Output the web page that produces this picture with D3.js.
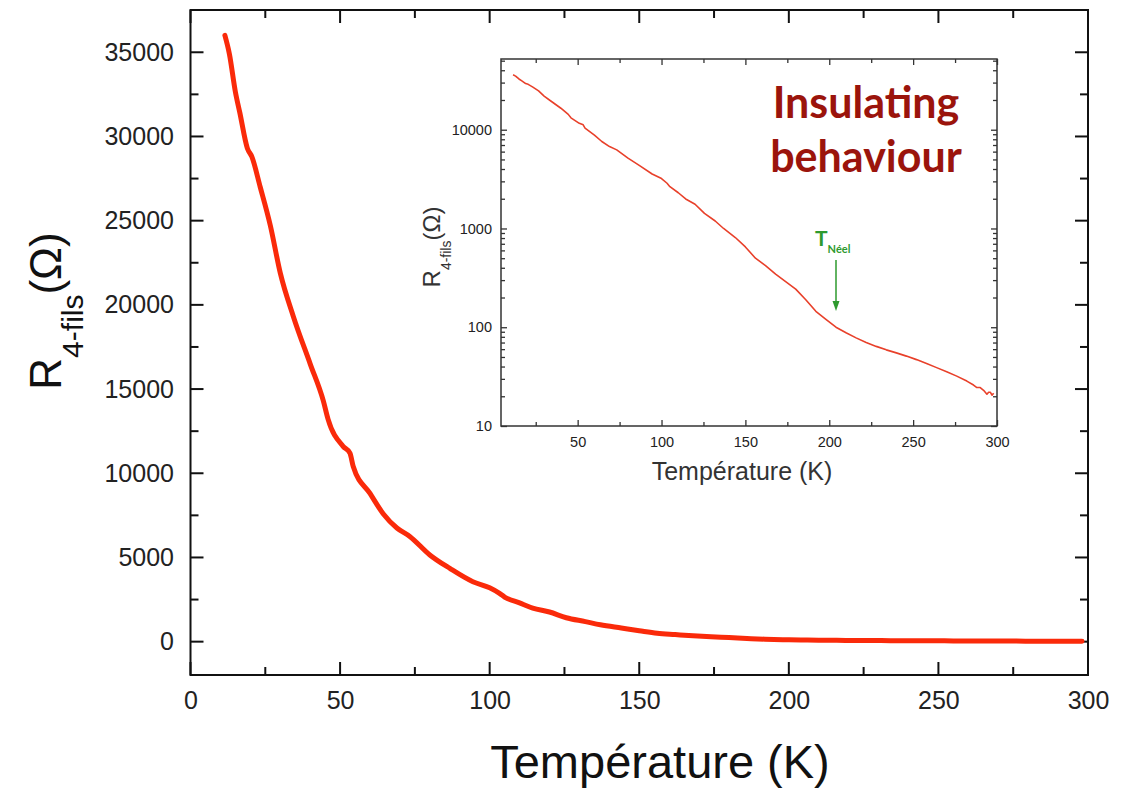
<!DOCTYPE html>
<html lang="fr">
<head>
<meta charset="utf-8">
<script src="https://cdnjs.cloudflare.com/ajax/libs/d3/7.8.5/d3.min.js"></script>
<style>
  body { margin: 0; background: #fff; }
  svg { font-family: "Liberation Sans", Arial, sans-serif; }
  .tick text { fill: #222; }
</style>
</head>
<body>
<script>
// Temperature (K) and 4-wire resistance (Ohm)
var temps = [11.5, 13, 15, 16.5, 19, 20.5, 23.3, 26.7, 30, 34.4, 40, 44.4, 46, 51, 53.3, 54.4,
  60, 64.4, 69, 73.3, 80, 86.7, 94.4, 100, 103.3, 105, 110, 114.4, 120, 125.6, 132, 137,
  144, 150, 156, 162, 168, 174, 180, 186, 192, 198, 204, 210, 216, 222, 228, 234, 240,
  246, 252, 258, 264, 270, 276, 282, 286, 288, 290, 292, 294, 295, 296, 297, 298];
var resist = [36000, 34900, 32650, 31400, 29300, 28800, 27000, 24700, 21900, 19300, 16500, 14300, 13200, 11600, 11200, 10400,
  8800, 7600, 6750, 6250, 5150, 4350, 3560, 3200, 2870, 2650, 2300, 1990, 1760, 1420, 1190, 1000,
  810, 650, 500, 420, 345, 290, 243, 190, 145, 120, 100, 88, 78, 70, 64, 59, 55,
  51, 47, 43, 39, 35.5, 32, 28.5, 26, 24.5, 24.5, 23, 21, 22, 22, 20.5, 21.5];

var xTicks = [0, 50, 100, 150, 200, 250, 300];
var xMinor = [25, 75, 125, 175, 225, 275];
var yTicks = [0, 5000, 10000, 15000, 20000, 25000, 30000, 35000];
var yMinor = [2500, 7500, 12500, 17500, 22500, 27500, 32500];
var inXTicks = [50, 100, 150, 200, 250, 300];
var inXMinor = [25, 75, 125, 175, 225, 275];
var inYTicks = [10, 100, 1000, 10000];

var data = temps.map(function(t, i) { return {t: t, r: resist[i]}; });

var w = 1132, h = 792;
var svg = d3.select("body").append("svg").attr("width", w).attr("height", h);

// ---------- main chart ----------
var mL = 190.5, mR = 1088, mT = 10, mB = 675;
var x = d3.scaleLinear().domain([0, 300]).range([mL, mR]);
var y = d3.scaleLinear().domain([-1980, 37510]).range([mB, mT]);

svg.append("rect")
  .attr("x", mL).attr("y", mT)
  .attr("width", mR - mL).attr("height", mB - mT)
  .attr("fill", "none").attr("stroke", "#111").attr("stroke-width", 2);

// labels from d3 axes, tick marks drawn as plain lines pointing inside
var gx = svg.append("g").attr("transform", "translate(0," + mB + ")")
  .call(d3.axisBottom(x).tickValues(xTicks).tickSize(0).tickPadding(16.5).tickFormat(d3.format("d")));
gx.select(".domain").remove();
gx.selectAll("text").style("font-size", "25px");

var gy = svg.append("g").attr("transform", "translate(" + mL + ",0)")
  .call(d3.axisLeft(y).tickValues(yTicks).tickSize(0).tickPadding(16.5).tickFormat(d3.format("d")));
gy.select(".domain").remove();
gy.selectAll("text").style("font-size", "25px");

var tickG = svg.append("g").attr("stroke", "#111").attr("stroke-width", 2);
function vTicks(vals, len) {
  vals.forEach(function(v) {
    tickG.append("line").attr("x1", x(v)).attr("x2", x(v)).attr("y1", mB).attr("y2", mB - len);
    tickG.append("line").attr("x1", x(v)).attr("x2", x(v)).attr("y1", mT).attr("y2", mT + len);
  });
}
function hTicks(vals, len) {
  vals.forEach(function(v) {
    tickG.append("line").attr("y1", y(v)).attr("y2", y(v)).attr("x1", mL).attr("x2", mL + len);
    tickG.append("line").attr("y1", y(v)).attr("y2", y(v)).attr("x1", mR).attr("x2", mR - len);
  });
}
vTicks(xTicks, 13);
vTicks(xMinor, 8);
hTicks(yTicks, 13);
hTicks(yMinor, 8);

var line = d3.line().curve(d3.curveMonotoneX)
  .x(function(d) { return x(d.t); }).y(function(d) { return y(d.r); });
svg.append("path").datum(data)
  .attr("d", line)
  .attr("fill", "none")
  .attr("stroke", "#fa2a0a")
  .attr("stroke-width", 5)
  .attr("stroke-linejoin", "round")
  .attr("stroke-linecap", "round");

// axis titles
svg.append("text")
  .attr("x", 660).attr("y", 778)
  .attr("text-anchor", "middle")
  .style("font-size", "47px").attr("fill", "#111")
  .text("Température (K)");

var yt = svg.append("text")
  .attr("transform", "translate(61,311) rotate(-90)")
  .attr("text-anchor", "middle")
  .attr("fill", "#111");
yt.append("tspan").style("font-size", "44px").text("R");
yt.append("tspan").style("font-size", "30px").attr("dy", 22).text("4-fils");
yt.append("tspan").style("font-size", "44px").attr("dy", -22).text("(Ω)");

// ---------- inset ----------
var iL = 501, iR = 997, iT = 59, iB = 426;
var ix = d3.scaleLinear().domain([4.3, 300]).range([iL, iR]);
var iy = d3.scaleLog().domain([10, 52000]).range([iB, iT]);

var logMinor = [];
[10, 100, 1000, 10000].forEach(function(dec) {
  for (var k = 2; k <= 9; k++) if (dec * k < 52000) logMinor.push(dec * k);
});

svg.append("rect")
  .attr("x", iL).attr("y", iT)
  .attr("width", iR - iL).attr("height", iB - iT)
  .attr("fill", "none").attr("stroke", "#333").attr("stroke-width", 1.5);

function inwardThin(g, axis) {
  g.call(axis);
  g.select(".domain").remove();
  g.selectAll(".tick line").attr("stroke", "#333").attr("stroke-width", 1.3);
  g.selectAll(".tick text").style("font-size", "14.5px").attr("fill", "#333");
  return g;
}

inwardThin(svg.append("g").attr("transform", "translate(0," + iB + ")"),
  d3.axisBottom(ix).tickValues(inXTicks).tickSize(-6).tickPadding(10.5).tickFormat(d3.format("d")));
inwardThin(svg.append("g").attr("transform", "translate(0," + iB + ")"),
  d3.axisBottom(ix).tickValues(inXMinor).tickSize(-4).tickFormat(""));
inwardThin(svg.append("g").attr("transform", "translate(0," + iT + ")"),
  d3.axisTop(ix).tickValues(inXTicks).tickSize(-6).tickFormat(""));
inwardThin(svg.append("g").attr("transform", "translate(0," + iT + ")"),
  d3.axisTop(ix).tickValues(inXMinor).tickSize(-4).tickFormat(""));
inwardThin(svg.append("g").attr("transform", "translate(" + iL + ",0)"),
  d3.axisLeft(iy).tickValues(inYTicks).tickSize(-6).tickPadding(9).tickFormat(d3.format("d")));
inwardThin(svg.append("g").attr("transform", "translate(" + iL + ",0)"),
  d3.axisLeft(iy).tickValues(logMinor).tickSize(-4).tickFormat(""));
inwardThin(svg.append("g").attr("transform", "translate(" + iR + ",0)"),
  d3.axisRight(iy).tickValues(inYTicks).tickSize(-6).tickFormat(""));
inwardThin(svg.append("g").attr("transform", "translate(" + iR + ",0)"),
  d3.axisRight(iy).tickValues(logMinor).tickSize(-4).tickFormat(""));

var iline = d3.line().x(function(d) { return ix(d.t); }).y(function(d) { return iy(d.r); });
svg.append("path").datum(data)
  .attr("d", iline)
  .attr("fill", "none")
  .attr("stroke", "#e8402a")
  .attr("stroke-width", 1.6)
  .attr("stroke-linejoin", "round");

svg.append("text")
  .attr("x", 742).attr("y", 480)
  .attr("text-anchor", "middle")
  .style("font-size", "25px").attr("fill", "#333")
  .text("Température (K)");

var iyt = svg.append("text")
  .attr("transform", "translate(440,247) rotate(-90)")
  .attr("text-anchor", "middle")
  .attr("fill", "#333");
iyt.append("tspan").style("font-size", "24px").text("R");
iyt.append("tspan").style("font-size", "14px").attr("dy", 11).text("4-fils");
iyt.append("tspan").style("font-size", "24px").attr("dy", -11).text("(Ω)");

// annotations
var note = svg.append("g")
  .style("font-family", "Lato, 'Open Sans', sans-serif")
  .style("font-weight", "bold")
  .style("font-size", "43px")
  .attr("fill", "#9b140c")
  .attr("text-anchor", "middle");
note.append("text").attr("x", 866).attr("y", 118).text("Insulating");
note.append("text").attr("x", 866).attr("y", 172).text("behaviour");

var tn = svg.append("text")
  .attr("x", 815).attr("y", 246)
  .attr("fill", "#2e9a2e")
  .style("font-family", "Lato, 'Open Sans', sans-serif")
  .style("font-weight", "bold");
tn.append("tspan").style("font-size", "21px").text("T");
tn.append("tspan").style("font-size", "11px").attr("dy", 7).text("Néel");

svg.append("line")
  .attr("x1", 836).attr("x2", 836).attr("y1", 260).attr("y2", 304)
  .attr("stroke", "#2e9a2e").attr("stroke-width", 1.5);
svg.append("path")
  .attr("d", "M832.5,301 L839.5,301 L836,311 Z")
  .attr("fill", "#2e9a2e");
</script>
</body>
</html>
